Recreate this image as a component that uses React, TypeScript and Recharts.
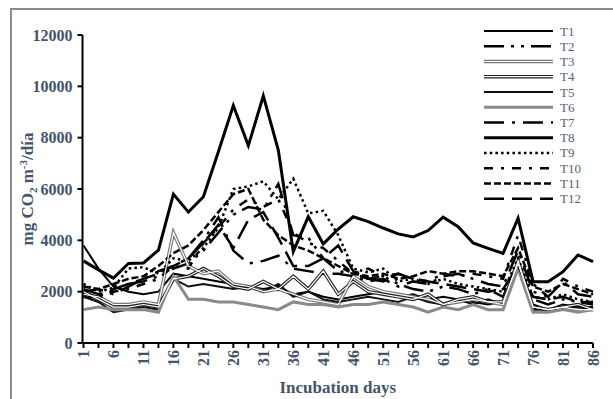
import { LineChart, Line, XAxis, YAxis, Legend } from "recharts";

// sampling days (only every second one is labelled on the axis)
const days = ["1", "3", "6", "8", "11", "13", "16", "18", "21", "23", "26", "28", "31", "33", "36", "38", "41", "43", "46", "48", "51", "53", "56", "58", "61", "63", "66", "68", "71", "73", "76", "78", "81", "83", "86"];
const yTicks = [0, 2000, 4000, 6000, 8000, 10000, 12000];

const t1 = [3800, 2900, 2200, 2000, 1900, 2000, 2700, 2600, 2500, 2400, 2300, 2200, 2100, 2200, 1900, 2000, 1800, 1700, 1800, 1900, 2000, 1800, 1900, 1700, 1800, 1700, 1600, 1500, 1600, 3000, 1500, 1300, 1500, 1400, 1400];
const t2 = [2100, 1900, 2000, 2300, 2400, 2600, 2900, 3100, 3600, 4300, 5000, 5300, 5200, 6200, 4200, 4100, 3300, 2800, 2700, 2500, 2600, 2300, 2100, 2000, 2200, 2100, 1900, 2100, 1800, 3200, 1700, 1500, 1700, 1600, 1500];
const t3 = [1900, 1800, 1500, 1500, 1600, 1500, 4300, 3000, 2700, 2800, 2300, 2200, 2000, 2100, 1900, 1700, 1600, 1500, 2600, 2200, 2000, 1900, 1800, 1700, 1500, 1600, 1700, 1600, 1500, 3200, 1400, 1300, 1400, 1300, 1300];
const t4 = [2000, 1700, 1400, 1400, 1500, 1400, 2500, 2600, 2900, 2600, 2200, 2100, 2400, 2100, 2600, 2100, 2800, 1900, 2400, 2000, 1900, 1800, 1700, 1900, 1500, 1700, 1800, 1600, 1600, 3100, 1400, 1300, 1400, 1500, 1300];
const t5 = [1800, 1600, 1200, 1300, 1400, 1300, 2500, 2200, 2300, 2200, 2100, 2200, 2000, 2300, 1800, 2000, 1700, 1600, 1700, 1800, 1700, 1600, 1800, 1600, 1500, 1700, 1500, 1700, 1500, 3000, 1300, 1300, 1400, 1400, 1300];
const t6 = [1300, 1400, 1300, 1300, 1300, 1200, 2600, 1700, 1700, 1600, 1600, 1500, 1400, 1300, 1600, 1500, 1500, 1400, 1500, 1500, 1600, 1500, 1400, 1200, 1400, 1300, 1500, 1300, 1300, 2900, 1200, 1200, 1300, 1200, 1300];
const t7 = [2000, 2100, 1900, 2200, 2500, 2800, 3000, 3300, 4000, 4900, 3600, 3100, 3200, 3400, 2900, 2800, 2700, 2700, 2600, 2400, 2500, 2200, 2400, 2300, 2600, 2700, 2500, 2300, 2200, 3600, 2000, 1800, 2400, 1900, 1800];
const t8 = [3200, 2850, 2530, 3100, 3120, 3620, 5800, 5100, 5700, 7450, 9250, 7690, 9630, 7520, 3560, 4920, 3860, 4440, 4920, 4730, 4480, 4250, 4130, 4380, 4900, 4530, 3900, 3690, 3490, 4860, 2390, 2390, 2780, 3430, 3170];
const t9 = [2300, 2000, 2150, 2900, 2950, 2700, 3300, 3200, 3700, 4500, 6000, 6100, 6300, 5600, 6400, 5050, 5150, 4200, 2900, 2750, 2900, 2400, 2500, 2300, 2500, 2300, 2200, 2100, 2000, 3300, 1800, 1700, 1900, 1700, 1600];
const t10 = [1800, 1700, 2000, 2100, 2300, 2500, 3000, 2900, 3900, 4500, 5200, 5600, 5300, 5600, 4300, 3900, 3700, 3200, 2700, 2900, 2600, 2700, 2500, 2400, 2700, 2600, 2700, 2600, 2500, 4200, 2300, 1800, 2500, 2200, 2000];
const t11 = [2200, 2100, 2300, 2500, 2600, 3000, 3500, 3800, 4400, 5100, 5800, 6000, 4800, 4200, 3800, 3600, 3300, 3000, 2700, 2600, 2700, 2500, 2600, 2800, 2700, 2800, 2800, 2700, 2600, 3700, 2200, 2000, 2300, 2100, 1900];
const t12 = [1900, 1800, 2100, 2300, 2500, 2700, 3000, 3300, 3900, 4600, 3700, 4800, 5100, 4100, 3000, 3000, 3300, 3800, 2800, 2500, 2400, 2700, 2500, 2400, 2300, 2200, 2100, 2000, 2100, 3000, 1800, 1700, 1800, 1600, 1600];

const data = days.map((day, i) => ({
  day,
  T1: t1[i], T2: t2[i], T3: t3[i], T4: t4[i], T5: t5[i], T6: t6[i],
  T7: t7[i], T8: t8[i], T9: t9[i], T10: t10[i], T11: t11[i], T12: t12[i],
}));

const FONT = '"Liberation Serif", "Times New Roman", serif';
const LABEL = "#44546A";

// stroke styles per treatment; "inner" draws a white core for the double lines
const series = [
  { key: "T1", stroke: "#000", width: 2, dash: undefined, inner: false },
  { key: "T2", stroke: "#000", width: 2.5, dash: "20 7 3 7 3 7", inner: false },
  { key: "T3", stroke: "#777", width: 3.5, dash: undefined, inner: true },
  { key: "T4", stroke: "#222", width: 3.5, dash: undefined, inner: true },
  { key: "T5", stroke: "#111", width: 2, dash: undefined, inner: false },
  { key: "T6", stroke: "#8a8a8a", width: 3, dash: undefined, inner: false },
  { key: "T7", stroke: "#000", width: 2.5, dash: "20 8 3 8", inner: false },
  { key: "T8", stroke: "#000", width: 3, dash: undefined, inner: false },
  { key: "T9", stroke: "#000", width: 2.5, dash: "2.5 3.2", inner: false },
  { key: "T10", stroke: "#000", width: 2.5, dash: "9 8 3 8", inner: false },
  { key: "T11", stroke: "#000", width: 2.5, dash: "7 3", inner: false },
  { key: "T12", stroke: "#000", width: 2.5, dash: "20 8", inner: false },
];

const XTick = (props: any) => {
  const { x, y, payload, index } = props;
  if (index % 2 !== 0) return <g />;
  return (
    <text
      x={x}
      y={y}
      dy="0.35em"
      transform={`rotate(-90, ${x}, ${y})`}
      textAnchor="end"
      fill={LABEL}
      fontSize={16}
      fontWeight="bold"
      fontFamily={FONT}
    >
      {payload.value}
    </text>
  );
};

const renderLegend = () => (
  <svg width={130} height={190}>
    {series.map((s, i) => {
      const y = 9 + i * 15.24;
      return (
        <g key={s.key}>
          <line x1={4} x2={73} y1={y} y2={y} stroke={s.stroke} strokeWidth={s.width} strokeDasharray={s.dash} />
          {s.inner && <line x1={4} x2={73} y1={y} y2={y} stroke="#fff" strokeWidth={1.2} />}
          <text x={80} y={y} dy="0.35em" fontSize={13} fontFamily={FONT} fill="#54627a">
            {s.key}
          </text>
        </g>
      );
    })}
  </svg>
);

export default function App() {
  return (
    <div style={{ position: "fixed", left: 0, top: 0, width: 613, height: 399, overflow: "hidden", background: "#fff" }}>
      <div
        style={{
          position: "absolute",
          left: 10,
          top: 8,
          right: -10,
          bottom: -10,
          borderTop: "2px solid #8c8c8c",
          borderLeft: "2px solid #8c8c8c",
        }}
      />
      <LineChart width={613} height={399} data={data} margin={{ top: 35, right: 20, left: 0, bottom: 0 }}>
        <XAxis
          dataKey="day"
          interval={0}
          height={56}
          tick={<XTick />}
          tickSize={5}
          tickMargin={2}
          stroke="#000"
          strokeWidth={2}
          padding={{ left: 1, right: 0 }}
          label={{
            content: (p: any) => (
              <text
                x={p.viewBox.x + p.viewBox.width / 2}
                y={393}
                textAnchor="middle"
                fill={LABEL}
                fontSize={17}
                fontWeight="bold"
                fontFamily={FONT}
              >
                Incubation days
              </text>
            ),
          }}
        />
        <YAxis
          width={82.5}
          domain={[0, 12000]}
          ticks={yTicks}
          interval={0}
          tickSize={5}
          tickMargin={5}
          stroke="#000"
          strokeWidth={2}
          tick={{ fill: LABEL, fontSize: 16, fontWeight: "bold", fontFamily: FONT }}
          label={{
            content: () => (
              <text
                x={33}
                y={189}
                transform="rotate(-90, 33, 189)"
                textAnchor="middle"
                fill={LABEL}
                fontSize={17}
                fontWeight="bold"
                fontFamily={FONT}
              >
                mg CO
                <tspan fontSize={11} dy={4}>2</tspan>
                <tspan dy={-4}> m</tspan>
                <tspan fontSize={11} dy={-6}>-3</tspan>
                <tspan dy={6}>/día</tspan>
              </text>
            ),
          }}
        />
        <Legend
          layout="vertical"
          align="center"
          verticalAlign="middle"
          content={renderLegend}
          wrapperStyle={{ position: "absolute", left: 480, top: 22, width: 130, height: 190 }}
        />
        {series.map((s) => (
          <Line
            key={s.key}
            dataKey={s.key}
            type="linear"
            stroke={s.stroke}
            strokeWidth={s.width}
            strokeDasharray={s.dash}
            dot={false}
            activeDot={false}
            isAnimationActive={false}
          />
        ))}
        {series
          .filter((s) => s.inner)
          .map((s) => (
            <Line
              key={s.key + "-core"}
              dataKey={s.key}
              type="linear"
              stroke="#fff"
              strokeWidth={1.2}
              dot={false}
              activeDot={false}
              legendType="none"
              isAnimationActive={false}
            />
          ))}
      </LineChart>
    </div>
  );
}
